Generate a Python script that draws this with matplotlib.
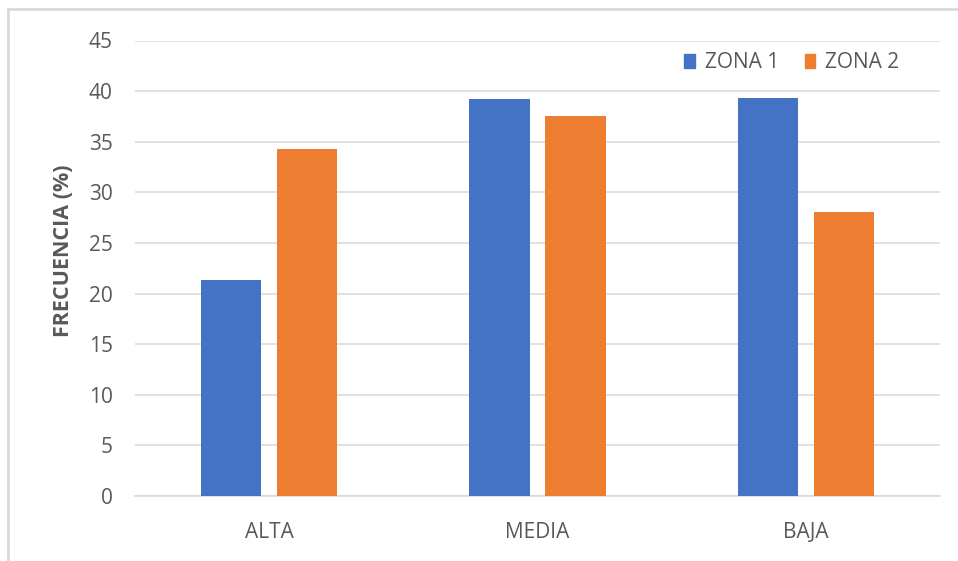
import numpy as np
import matplotlib.pyplot as plt
from matplotlib.patches import Patch, Rectangle

categorias = ["ALTA", "MEDIA", "BAJA"]
zona1 = [21.3, 39.2, 39.3]
zona2 = [34.3, 37.5, 28.1]
series = ["ZONA 1", "ZONA 2"]
colores = ["#4472C4", "#ED7D31"]
gris = "#595959"

plt.rcParams["font.family"] = ["Open Sans", "DejaVu Sans"]

fig = plt.figure(figsize=(9.58, 5.61), dpi=100)
ax = fig.add_axes([135 / 958, 1 - 496 / 561, 805 / 958, (496 - 40.5) / 561])

x = np.arange(len(categorias))
ancho = 0.224
desp = 0.1416
ax.bar(x - desp, zona1, ancho, color=colores[0], zorder=3)
ax.bar(x + desp, zona2, ancho, color=colores[1], zorder=3)

ax.set_xlim(-0.5, 2.5)
ax.set_ylim(0, 45)
ax.set_yticks(np.arange(0, 46, 5))
ax.set_xticks(x)
ax.set_xticklabels(categorias)
ax.tick_params(axis="both", length=0, colors=gris, labelsize=15)
ax.tick_params(axis="y", pad=16)
ax.tick_params(axis="x", pad=18.5)
ax.grid(axis="y", color="#D9D9D9", linewidth=1.1, zorder=0)
for lado in ["top", "right", "left"]:
    ax.spines[lado].set_visible(False)
ax.spines["bottom"].set_color("#D9D9D9")
ax.spines["bottom"].set_linewidth(1.2)

fig.text(64 / 958, 1 - 251 / 561, "FRECUENCIA (%)", rotation=90, ha="center",
         va="center", fontsize=15.5, fontweight="bold", color=gris)

handles = [Patch(color=c) for c in colores]
ax.legend(handles, series, loc="center", bbox_to_anchor=(792 / 958, 1 - 63 / 561),
          bbox_transform=fig.transFigure, ncol=2, frameon=False, fontsize=15,
          labelcolor=gris, handlelength=0.5, handleheight=0.65,
          handletextpad=0.5, columnspacing=1.2)

# marco exterior del gráfico
fig.add_artist(Rectangle((8 / 958, -0.1), 1.2, 1 - 9 / 561 + 0.1,
                         transform=fig.transFigure, fill=False,
                         edgecolor="#D9D9D9", linewidth=2))

fig.savefig("out.png", dpi=100)
